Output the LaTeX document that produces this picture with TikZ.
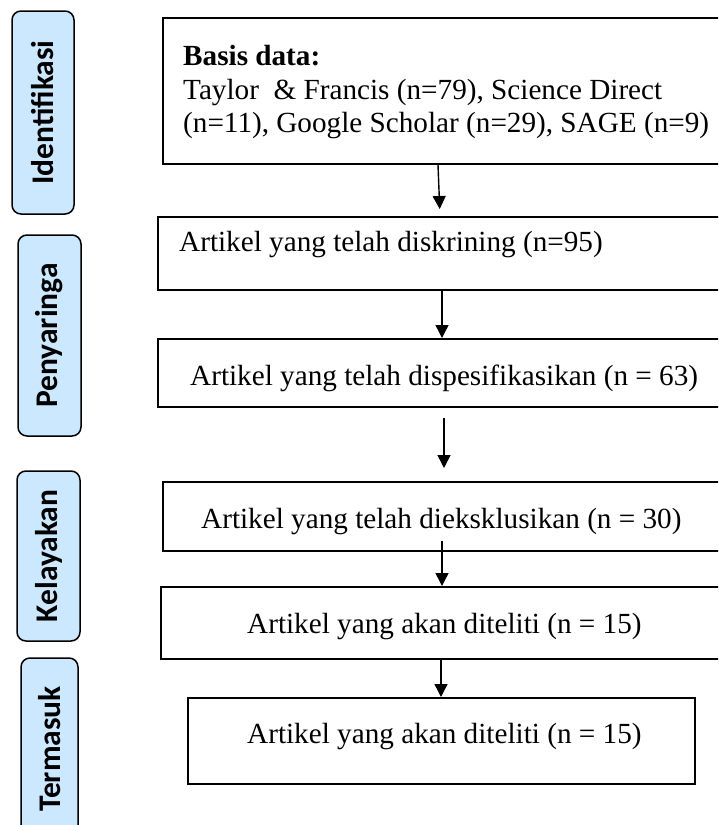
\documentclass[tikz,border=0pt]{standalone}
\usepackage{fontspec}
\setmainfont{Liberation Serif}
\newfontfamily\sidefont{Carlito}
\usetikzlibrary{arrows.meta}
\definecolor{sideblue}{HTML}{CCE8FF}
\begin{document}
\begin{tikzpicture}[x=1pt,y=-1pt,
  mainbox/.style={draw, line width=1.6pt, rectangle, anchor=north west, inner sep=0pt},
  sidebox/.style={draw, line width=1.5pt, rounded corners=9pt, fill=sideblue, rotate=90, inner sep=0pt, font=\sidefont\bfseries\fontsize{31.5}{36}\selectfont},
  txt/.style={anchor=base west, inner sep=0pt, font=\fontsize{29.2}{33.5}\selectfont},
  arr/.style={line width=1.4pt, -{Triangle[width=13pt,length=13pt]}}
]
\useasboundingbox (0,0) rectangle (718,825);
\clip (0,0) rectangle (718,825);
% main boxes
\node[mainbox, minimum width=568pt, minimum height=146pt] (b1) at (162,17) {};
\node[mainbox, minimum width=573pt, minimum height=73pt] (b2) at (157,216) {};
\node[mainbox, minimum width=573pt, minimum height=68pt] (b3) at (157,338) {};
\node[mainbox, minimum width=568pt, minimum height=69pt] (b4) at (162,481) {};
\node[mainbox, minimum width=570pt, minimum height=72pt] (b5) at (160,586) {};
\node[mainbox, minimum width=507pt, minimum height=86pt] (b6) at (187,697) {};
% side boxes
\node[sidebox, minimum width=203pt, minimum height=62pt] (s1) at (43,112.5) {Identifikasi};
\node[sidebox, minimum width=201pt, minimum height=63pt] (s2) at (49.5,335.5) {Penyaringa};
\node[sidebox, minimum width=170pt, minimum height=63pt] (s3) at (48.5,556) {Kelayakan};
\node[sidebox, minimum width=182pt, minimum height=57pt] (s4) at (49.5,749) {Termasuk};
% texts
\node[txt] (t1) at (183,65) {\bfseries Basis data:};
\node[txt] (t1b) at (183,99) {Taylor\ \ \& Francis (n=79), Science Direct};
\node[txt] (t1c) at (183,132) {(n=11), Google Scholar (n=29), SAGE (n=9)};
\node[txt] (t2) at (179,251) {Artikel yang telah diskrining (n=95)};
\node[txt] (t3) at (190,385) {Artikel yang telah dispesifikasikan (n = 63)};
\node[txt] (t4) at (201,528) {Artikel yang telah dieksklusikan (n = 30)};
\node[txt] (t5) at (247,633) {Artikel yang akan diteliti (n = 15)};
\node[txt] (t6) at (247,743) {Artikel yang akan diteliti (n = 15)};
% arrows
\coordinate (x1a) at (438,0);
\coordinate (x1b) at (440,0);
\coordinate (x2) at (442,0);
\coordinate (x3) at (444,0);
\coordinate (x4) at (442,0);
\coordinate (x5) at (441,0);
\draw[arr, shorten >=7pt] (b1.south -| x1a) -- (b2.north -| x1b);
\draw[arr] (b2.south -| x2) -- (b3.north -| x2);
\draw[arr, shorten <=10pt, shorten >=13pt] (b3.south -| x3) -- (b4.north -| x3);
\draw[arr, shorten <=-11pt] (b4.south -| x4) -- (b5.north -| x4);
\draw[arr] (b5.south -| x5) -- (b6.north -| x5);
\end{tikzpicture}
\end{document}
